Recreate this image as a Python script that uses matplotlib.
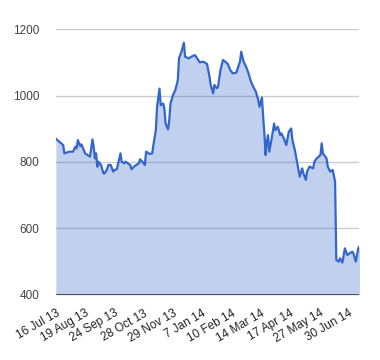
import matplotlib
matplotlib.use("Agg")
import matplotlib.pyplot as plt
import numpy as np

# trading-day index (one row per day, labels every 24 rows) and close price
day_idx = [0, 6, 7, 11, 14, 16, 17, 18, 20, 21, 22, 24, 26, 28, 29, 30, 31, 32,
           33, 34, 35, 37, 39, 40, 42, 43, 45, 47, 48, 50, 53, 54, 56, 57, 59,
           61, 62, 64, 66, 68, 69, 71, 73, 74, 77, 79, 80, 82, 83, 85, 86, 88,
           89, 90, 92, 93, 94, 96, 98, 100, 101, 103, 105, 106, 109, 111, 114,
           115, 118, 121, 124, 126, 127, 129, 130, 132, 133, 135, 137, 139,
           141, 143, 145, 148, 150, 151, 152, 154, 156, 158, 160, 162, 164,
           166, 167, 169, 170, 171, 172, 173, 174, 175, 177, 179, 180, 182,
           184, 185, 187, 189, 190, 191, 193, 194, 196, 198, 200, 202, 203,
           205, 206, 208, 211, 212, 214, 217, 218, 219, 222, 223, 225, 227,
           229, 230, 232, 233, 235, 237, 239, 241, 243, 244, 246, 248, 249]
price = [870, 851, 826, 831, 831, 846, 841, 866, 848, 853, 844, 826, 821, 816,
         841, 868, 846, 811, 826, 786, 801, 791, 766, 766, 778, 791, 791, 771,
         776, 778, 826, 801, 796, 801, 796, 791, 778, 786, 791, 796, 808, 801,
         791, 831, 824, 826, 851, 896, 966, 1021, 971, 976, 961, 916, 898, 926,
         976, 1001, 1017, 1046, 1112, 1132, 1159, 1117, 1112, 1117, 1122, 1117,
         1100, 1102, 1095, 1057, 1032, 1007, 1032, 1022, 1027, 1077, 1107,
         1102, 1095, 1077, 1067, 1069, 1092, 1102, 1132, 1102, 1087, 1067,
         1042, 1026, 1012, 986, 966, 994, 936, 886, 821, 861, 881, 831, 871,
         916, 896, 906, 881, 886, 871, 851, 871, 891, 901, 866, 836, 796, 756,
         781, 766, 746, 771, 786, 781, 801, 811, 821, 856, 826, 811, 786, 771,
         776, 741, 505, 500, 510, 497, 540, 520, 525, 530, 525, 500, 540, 546]

tick_idx = [0, 24, 48, 72, 96, 120, 144, 168, 192, 216, 240]
tick_labels = ["16 Jul 13", "19 Aug 13", "24 Sep 13", "28 Oct 13", "29 Nov 13",
               "7 Jan 14", "10 Feb 14", "14 Mar 14", "17 Apr 14", "27 May 14",
               "30 Jun 14"]
y_ticks = [400, 600, 800, 1000, 1200]

plt.rcParams['font.family'] = ['Liberation Sans', 'DejaVu Sans']

fig = plt.figure(figsize=(3.8, 3.6), dpi=100)
ax = fig.add_axes([0.147, 0.181, 0.799, 0.738])

for y in y_ticks[1:]:
    ax.axhline(y, color='#cccccc', lw=1, zorder=0)
ax.axhline(400, color='#333333', lw=1.2, zorder=4)

ax.fill_between(day_idx, 400, price, color='#3366cc', alpha=0.3, lw=0, zorder=1)
ax.plot(day_idx, price, color='#3366cc', lw=1.6, zorder=3)

ax.set_xlim(0, 249)
ax.set_ylim(400, 1200)
ax.set_yticks(y_ticks)
ax.set_yticklabels([str(v) for v in y_ticks], color='#444444', fontsize=8.5)
ax.set_xticks(tick_idx)
ax.set_xticklabels(tick_labels, rotation=30, ha='right', rotation_mode='anchor',
                   color='#222222', fontsize=8.5)
ax.tick_params(axis='both', length=0)
ax.tick_params(axis='x', pad=9)
ax.tick_params(axis='y', pad=12)
for s in ax.spines.values():
    s.set_visible(False)

fig.savefig('out.png', dpi=100)
